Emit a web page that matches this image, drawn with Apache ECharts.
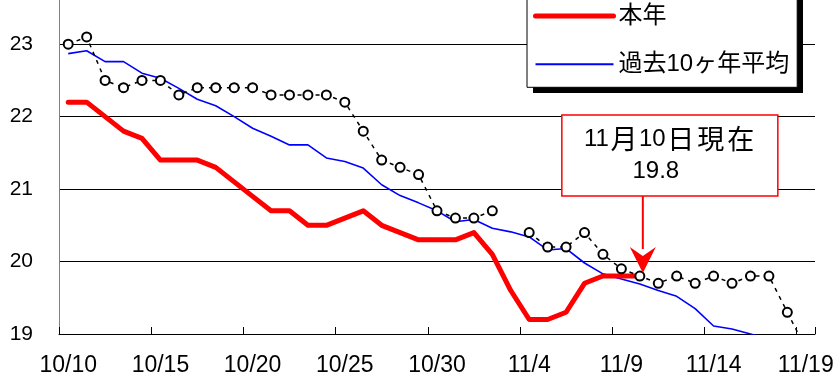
<!DOCTYPE html>
<html>
<head>
<meta charset="utf-8">
<script src="https://cdn.jsdelivr.net/npm/echarts@6/dist/echarts.min.js"></script>
<style>
html,body{margin:0;padding:0;background:#fff;}
#chart{width:835px;height:374px;}
</style>
</head>
<body>
<div id="chart"></div>
<script>
const dates = ['10/10','10/11','10/12','10/13','10/14','10/15','10/16','10/17','10/18','10/19',
  '10/20','10/21','10/22','10/23','10/24','10/25','10/26','10/27','10/28','10/29',
  '10/30','10/31','11/1','11/2','11/3','11/4','11/5','11/6','11/7','11/8',
  '11/9','11/10','11/11','11/12','11/13','11/14','11/15','11/16','11/17','11/18','11/19'];

const lastYear = [23.0, 23.1, 22.5, 22.4, 22.5, 22.5, 22.3, 22.4, 22.4, 22.4,
  22.4, 22.3, 22.3, 22.3, 22.3, 22.2, 21.8, 21.4, 21.3, 21.2,
  20.7, 20.6, 20.6, 20.7, null, 20.4, 20.2, 20.2, 20.4, 20.1,
  19.9, 19.8, 19.7, 19.8, 19.7, 19.8, 19.7, 19.8, 19.8, 19.3, 18.8];

const thisYear = [22.2, 22.2, 22.0, 21.8, 21.7, 21.4, 21.4, 21.4, 21.3, 21.1,
  20.9, 20.7, 20.7, 20.5, 20.5, 20.6, 20.7, 20.5, 20.4, 20.3,
  20.3, 20.3, 20.4, 20.1, 19.6, 19.2, 19.2, 19.3, 19.7, 19.8,
  19.8, 19.8];

const avg10 = [22.87, 22.91, 22.76, 22.76, 22.60, 22.53, 22.39, 22.24, 22.15, 22.00,
  21.84, 21.73, 21.61, 21.61, 21.43, 21.38, 21.29, 21.06, 20.91, 20.81,
  20.70, 20.55, 20.58, 20.46, 20.41, 20.34, 20.16, 20.18, 19.98, 19.83,
  19.76, 19.69, 19.60, 19.52, 19.35, 19.11, 19.07, 19.00, 18.93, 18.88, 18.83];

const yTicks = [19, 20, 21, 22, 23];
const noteDate = '11/10';
const noteValue = 19.8;

const LAT = "'Liberation Sans', Arial, 'Noto Sans CJK JP', sans-serif";
const chart = echarts.init(document.getElementById('chart'), null, {renderer: 'canvas'});

const option = {
  animation: false,
  backgroundColor: '#ffffff',
  grid: {left: 59, right: 20, top: 0, bottom: 40, containLabel: false, outerBoundsMode: 'none'},
  legend: {
    data: [
      {name: '本年', lineStyle: {color: '#ff0000', width: 5, cap: 'round'}},
      {name: '過去10ヶ年平均', lineStyle: {color: '#0000ff', width: 2}}
    ],
    orient: 'vertical',
    left: 527,
    top: -16,
    padding: [20, 8, 11, 6],
    itemGap: 24.3,
    itemWidth: 78,
    itemHeight: 14,
    backgroundColor: '#ffffff',
    borderColor: '#000000',
    borderWidth: 1,
    borderRadius: 0,
    itemStyle: {opacity: 0},
    textStyle: {fontFamily: LAT, fontSize: 24, lineHeight: 24, color: '#000'},
    z: 5
  },
  xAxis: {
    type: 'category',
    data: dates,
    boundaryGap: true,
    axisLine: {lineStyle: {color: '#000', width: 1}},
    axisTick: {show: true, inside: true, length: 7, interval: 4, lineStyle: {color: '#000'}},
    axisLabel: {interval: 4, margin: 20, fontFamily: LAT, fontSize: 23, color: '#000'},
    splitLine: {show: false}
  },
  yAxis: {
    type: 'value',
    min: 19, max: 23.61, interval: 1,
    axisLine: {show: true, lineStyle: {color: '#808080', width: 1}},
    axisTick: {show: false},
    axisLabel: {margin: 26, fontFamily: LAT, fontSize: 21, color: '#000', showMaxLabel: false,
      formatter: v => (yTicks.indexOf(v) >= 0 ? String(v) : '')},
    splitLine: {show: true, showMaxLine: false, lineStyle: {color: '#000', width: 1}}
  },
  series: [
    {
      name: '前年',
      type: 'line',
      data: lastYear,
      connectNulls: false,
      symbol: 'circle',
      symbolSize: 9,
      showSymbol: true,
      itemStyle: {color: '#ffffff', borderColor: '#000000', borderWidth: 2},
      lineStyle: {color: '#000000', width: 1.5, type: [4, 5]},
      z: 4
    },
    {
      name: '本年',
      type: 'line',
      data: thisYear,
      symbol: 'none',
      lineStyle: {color: '#ff0000', width: 5, cap: 'round', join: 'round'},
      itemStyle: {color: '#ff0000'},
      z: 3
    },
    {
      name: '過去10ヶ年平均',
      type: 'line',
      data: avg10,
      symbol: 'none',
      lineStyle: {color: '#0000ff', width: 1.6},
      itemStyle: {color: '#0000ff'},
      z: 2
    }
  ]
};
chart.setOption(option);

const p = chart.convertToPixel({gridIndex: 0}, [noteDate, noteValue]);
const ax = p[0] + 3, tipY = p[1] - 3;
const boxL = p[0] - 78, boxT = p[1] - 161, boxW = 216, boxH = 81;
chart.setOption({
  graphic: [
    {type: 'rect', shape: {x: 533, y: -10, width: 270, height: 103},
     style: {fill: '#000000'}, z: 4},
    {type: 'rect', shape: {x: boxL, y: boxT, width: boxW, height: boxH},
     style: {fill: '#ffffff', stroke: '#ff0000', lineWidth: 1.5}, z: 100},
    {type: 'text', x: p[0] + 30, y: p[1] - 137,
     style: {
       text: '{d|11}{c|月}{d|10}{c|日}{c|現}{c|在}',
       align: 'center', verticalAlign: 'middle', fill: '#000',
       rich: {
         d: {fontFamily: "'Liberation Sans', Arial", fontSize: 24, fill: '#000'},
         c: {fontFamily: "'Noto Sans CJK JP'", fontSize: 27, width: 30, align: 'center', fill: '#000'}
       }
     }, z: 101},
    {type: 'text', x: p[0] + 16, y: p[1] - 105,
     style: {text: String(noteValue), font: "24px 'Liberation Sans', Arial", fill: '#000',
             align: 'center', verticalAlign: 'middle'}, z: 101},
    {type: 'line', shape: {x1: ax, y1: boxT + boxH, x2: ax, y2: tipY - 24},
     style: {stroke: '#ff0000', lineWidth: 2}, z: 100},
    {type: 'polygon', shape: {points: [[ax - 13, tipY - 26], [ax, tipY - 17], [ax + 13, tipY - 26], [ax, tipY]]},
     style: {fill: '#ff0000'}, z: 100}
  ]
});
</script>
</body>
</html>
